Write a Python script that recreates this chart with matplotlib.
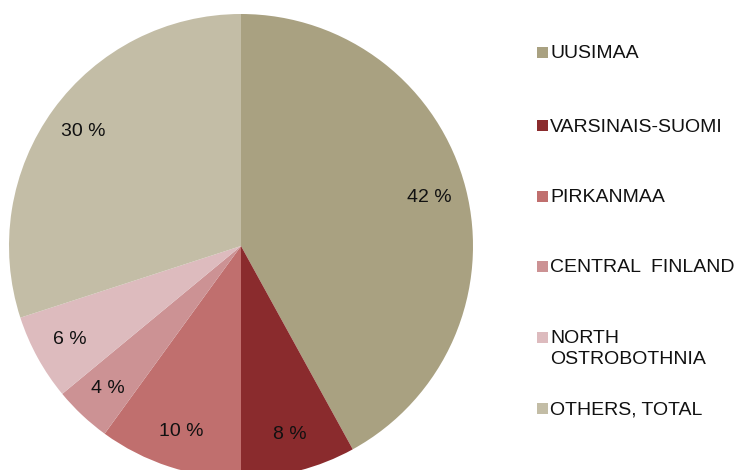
import matplotlib
matplotlib.use("Agg")
import matplotlib.pyplot as plt
from matplotlib.patches import Rectangle

# ── Data ──────────────────────────────────────────────────────────────────────
regions = ["UUSIMAA", "VARSINAIS-SUOMI", "PIRKANMAA", "CENTRAL  FINLAND",
           "NORTH\nOSTROBOTHNIA", "OTHERS, TOTAL"]
shares  = [42, 8, 10, 4, 6, 30]
colors  = ["#A9A181", "#8A2B2D", "#C06F6E", "#CC9294", "#DDBBBE", "#C3BDA6"]

W, H = 740, 470
plt.rcParams["font.family"] = ["Liberation Sans", "DejaVu Sans"]
FS = 14

fig = plt.figure(figsize=(W / 100, H / 100), dpi=100, facecolor="white")

# pie centre (241, 246) px from top-left, radius 232 px
cx, cy, r = 241, 246, 232
ax = fig.add_axes([(cx - r) / W, (H - cy - r) / H, 2 * r / W, 2 * r / H])
ax.pie(shares, colors=colors, startangle=90, counterclock=False,
       radius=1, pctdistance=0.84,
       autopct=lambda p: f"{p:.0f} %",
       textprops=dict(fontsize=FS, color="#111111"),
       wedgeprops=dict(linewidth=0))
ax.set_xlim(-1, 1)
ax.set_ylim(-1, 1)
ax.set_aspect("equal")
ax.axis("off")

# ── Legend (drawn by hand so the square sits at the first text line) ─────────
rows_y = [52, 125, 196, 266, 337, 408]
for name, col, y in zip(regions, colors, rows_y):
    fig.patches.append(Rectangle((537 / W, (H - y - 5.5) / H), 11 / W, 11 / H,
                                 transform=fig.transFigure, facecolor=col,
                                 edgecolor="none"))
    if "\n" in name:
        fig.text(550 / W, (H - y + 7) / H, name, fontsize=FS, color="#111111",
                 ha="left", va="top", linespacing=1.3)
    else:
        fig.text(550 / W, (H - y - 2) / H, name, fontsize=FS, color="#111111",
                 ha="left", va="center")

fig.savefig("out.png", dpi=100, facecolor="white")
